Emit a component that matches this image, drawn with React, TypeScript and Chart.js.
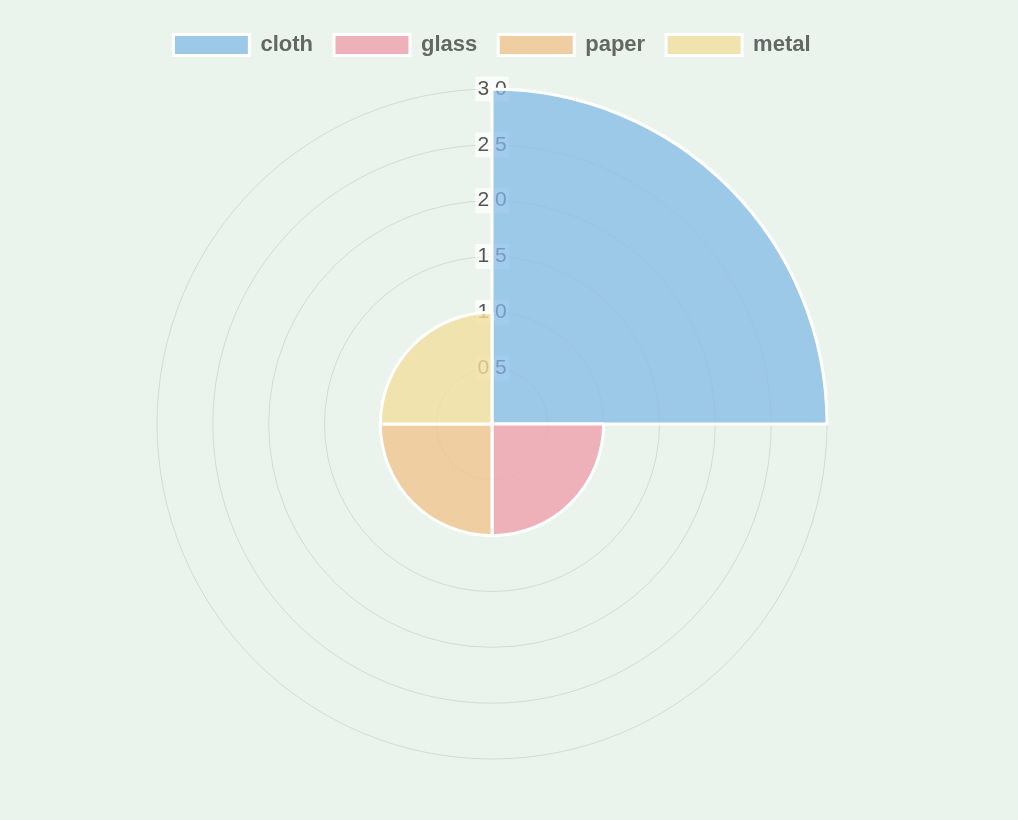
import React, { useEffect, useRef } from "react";
import { Chart, registerables } from "chart.js";

Chart.register(...registerables);

const categories = ["cloth", "glass", "paper", "metal"];
const values = [3, 1, 1, 1];
const fillColors = [
  "rgba(128,184,231,0.72)",
  "rgba(240,160,172,0.8)",
  "rgba(240,196,142,0.8)",
  "rgba(243,222,158,0.8)",
];
const tickStep = 0.5;
const scaleMax = 3;

const legendMargin = {
  id: "legendMargin",
  beforeInit(chart: any) {
    const orig = chart.legend.fit;
    chart.legend.fit = function () {
      orig.bind(chart.legend)();
      this.height += 11;
    };
  },
};

export default function App() {
  const ref = useRef<HTMLCanvasElement | null>(null);
  useEffect(() => {
    document.body.style.margin = "0";
    document.body.style.background = "#eaf4ec";
    const chart = new Chart(ref.current!, {
      type: "polarArea",
      data: {
        labels: categories,
        datasets: [
          {
            data: values,
            backgroundColor: fillColors,
            borderColor: "#ffffff",
            borderWidth: 3,
          },
        ],
      },
      plugins: [legendMargin],
      options: {
        animation: false,
        responsive: true,
        maintainAspectRatio: false,
        layout: { padding: { top: 13, bottom: 48 } },
        plugins: {
          legend: {
            position: "top",
            labels: {
              font: { family: "Liberation Sans", size: 22, weight: "bold" },
              color: "#666",
              boxWidth: 76,
              boxHeight: 21,
              padding: 21,
            },
          },
          tooltip: { enabled: false },
        },
        scales: {
          r: {
            min: 0,
            max: scaleMax,
            ticks: {
              stepSize: tickStep,
              font: { family: "Liberation Sans", size: 21 },
              color: "#555",
              backdropColor: "rgba(255,255,255,0.7)",
              callback: (v: any) => Number(v).toFixed(1),
            },
            grid: { color: "rgba(0,0,0,0.1)" },
          },
        },
      },
    });
    return () => chart.destroy();
  }, []);
  return (
    <div style={{ width: 984, height: 820, position: "relative" }}>
      <canvas ref={ref} />
    </div>
  );
}
